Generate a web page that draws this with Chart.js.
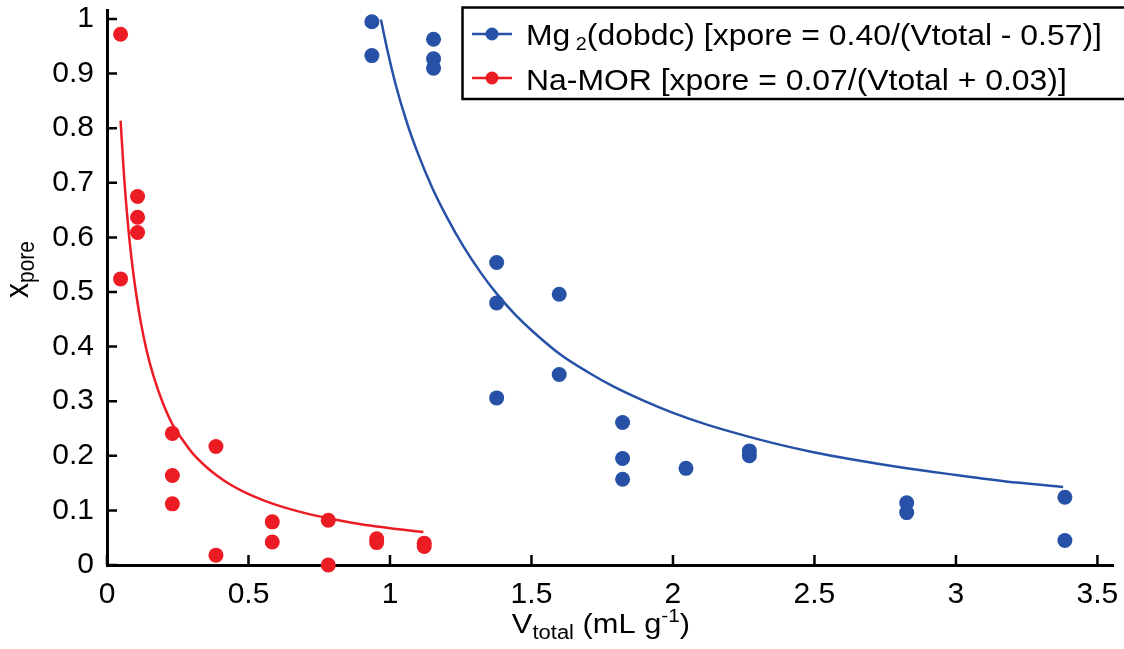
<!DOCTYPE html>
<html>
<head>
<meta charset="utf-8">
<script src="https://cdn.jsdelivr.net/npm/chart.js@4.4.1/dist/chart.umd.min.js"></script>
<style>
  html, body { margin: 0; padding: 0; background: #fff; }
  #wrap { width: 1124px; height: 649px; }
</style>
</head>
<body>
<div id="wrap"><canvas id="c" width="1124" height="649"></canvas></div>
<script>
// Mg2(dobdc) measured points
const mgX = [0.936, 0.936, 1.154, 1.154, 1.154, 1.377, 1.377, 1.377, 1.598, 1.598, 1.822, 1.822, 1.822, 2.046, 2.270, 2.270, 2.826, 2.826, 3.385, 3.385];
const mgY = [0.995, 0.933, 0.963, 0.927, 0.910, 0.554, 0.480, 0.306, 0.496, 0.349, 0.261, 0.195, 0.157, 0.177, 0.209, 0.200, 0.114, 0.096, 0.124, 0.045];
// Na-MOR measured points
const morX = [0.048, 0.048, 0.108, 0.108, 0.108, 0.231, 0.231, 0.231, 0.385, 0.385, 0.584, 0.584, 0.782, 0.782, 0.953, 0.953, 1.121, 1.121];
const morY = [0.972, 0.524, 0.675, 0.637, 0.609, 0.241, 0.164, 0.112, 0.217, 0.018, 0.079, 0.042, 0.082, 0.000, 0.048, 0.041, 0.040, 0.034];
// fit curves
const mgFitX = [0.968, 0.990, 1.020, 1.060, 1.100, 1.150, 1.200, 1.260, 1.320, 1.377, 1.440, 1.500, 1.601, 1.700, 1.789, 1.900, 1.998, 2.120, 2.260, 2.380, 2.484, 2.625, 2.826, 2.999, 3.214, 3.379];
const mgFitY = [0.999, 0.945, 0.880, 0.810, 0.752, 0.690, 0.638, 0.583, 0.536, 0.497, 0.460, 0.430, 0.386, 0.353, 0.327, 0.300, 0.279, 0.257, 0.236, 0.220, 0.208, 0.194, 0.177, 0.165, 0.151, 0.143];
const morFitX = [0.048, 0.060, 0.075, 0.090, 0.105, 0.120, 0.140, 0.165, 0.195, 0.231, 0.270, 0.305, 0.350, 0.388, 0.440, 0.495, 0.560, 0.623, 0.700, 0.782, 0.870, 0.953, 1.040, 1.118];
const morFitY = [0.814, 0.714, 0.619, 0.547, 0.490, 0.443, 0.393, 0.345, 0.300, 0.258, 0.227, 0.203, 0.180, 0.164, 0.146, 0.131, 0.117, 0.106, 0.095, 0.0855, 0.077, 0.0706, 0.065, 0.0605];

const xTicks = [0, 0.5, 1, 1.5, 2, 2.5, 3, 3.5];
const yTicks = [0, 0.1, 0.2, 0.3, 0.4, 0.5, 0.6, 0.7, 0.8, 0.9, 1];

// legend rows: [main, subscript, rest]
const legendRows = [
  ['Mg', ' 2', '(dobdc) [xpore = 0.40/(Vtotal - 0.57)]'],
  ['Na-MOR [xpore = 0.07/(Vtotal + 0.03)]', '', ''],
];

const BLUE = '#2651a6';
const RED = '#ec1c24';
const FAM = '"Liberation Sans", Arial, Helvetica, sans-serif';
const STRETCH = 1.1; // source figure text is a bit wide

const pts = (xs, ys) => xs.map((x, i) => ({ x, y: ys[i] }));

// draw text runs [text, size, dy] left to right from (x, y)
function runs(ctx, parts, x, y) {
  let w = 0;
  for (const [t, size, dy] of parts) {
    if (!t) continue;
    ctx.font = `${size}px ${FAM}`;
    ctx.save();
    ctx.translate(x + w, y + dy);
    ctx.scale(STRETCH, 1);
    ctx.fillText(t, 0, 0);
    ctx.restore();
    w += ctx.measureText(t).width * STRETCH;
  }
  return w;
}
function runsWidth(ctx, parts) {
  let w = 0;
  for (const [t, size] of parts) {
    ctx.font = `${size}px ${FAM}`;
    w += ctx.measureText(t).width * STRETCH;
  }
  return w;
}

const extras = {
  id: 'extras',
  beforeDatasetsDraw(chart) {
    // inward tick marks
    const { ctx, chartArea: a, scales: { x, y } } = chart;
    ctx.save();
    ctx.strokeStyle = '#000';
    ctx.lineWidth = 2.5;
    ctx.beginPath();
    xTicks.forEach((v) => { const px = x.getPixelForValue(v); ctx.moveTo(px, a.bottom); ctx.lineTo(px, a.bottom - 10); });
    yTicks.forEach((v) => { const py = y.getPixelForValue(v); ctx.moveTo(a.left, py); ctx.lineTo(a.left + 10, py); });
    ctx.stroke();
    ctx.restore();
  },
  afterDraw(chart) {
    const { ctx } = chart;
    ctx.save();
    ctx.fillStyle = '#000';
    ctx.textBaseline = 'alphabetic';
    ctx.textAlign = 'left';

    // x axis title
    const xt = [['V', 28, 0], ['total', 20, 6], [' (mL g', 28, 0], ['-1', 19, -11], [')', 28, 0]];
    const xw = runsWidth(ctx, xt);
    runs(ctx, xt, 601 - xw / 2, 633);

    // y axis title (rotated)
    ctx.save();
    ctx.translate(28, 298);
    ctx.scale(STRETCH, 1);
    ctx.rotate(-Math.PI / 2);
    let off = 0;
    [['x', 30, 0], ['pore', 21, 5]].forEach(([t, s, dy]) => {
      ctx.font = `${s}px ${FAM}`;
      ctx.fillText(t, off, dy);
      off += ctx.measureText(t).width;
    });
    ctx.restore();

    // legend box
    ctx.strokeStyle = '#000';
    ctx.lineWidth = 2.5;
    ctx.strokeRect(462.5, 7.5, 700, 91.5);
    const cols = [BLUE, RED];
    const lineY = [34, 78];
    const baseY = [45, 90];
    legendRows.forEach((r, i) => {
      ctx.strokeStyle = cols[i];
      ctx.lineWidth = 2.5;
      ctx.beginPath(); ctx.moveTo(472, lineY[i]); ctx.lineTo(512, lineY[i]); ctx.stroke();
      ctx.fillStyle = cols[i];
      ctx.beginPath(); ctx.arc(492, lineY[i], 6.5, 0, Math.PI * 2); ctx.fill();
      ctx.fillStyle = '#000';
      runs(ctx, [[r[0], 29, 0], [r[1], 18, 5], [r[2], 29, 0]], 526, baseY[i]);
    });
    ctx.restore();
  },
};

const tickFont = { family: FAM, size: 30 };
const noPad = (s) => { s.paddingTop = 0; s.paddingBottom = 0; s.paddingLeft = 0; s.paddingRight = 0; };

new Chart(document.getElementById('c'), {
  type: 'scatter',
  data: {
    datasets: [
      { label: 'Mg2(dobdc)', data: pts(mgX, mgY), backgroundColor: BLUE, borderColor: BLUE, pointRadius: 7.5, pointBorderWidth: 0, showLine: false, clip: false },
      { label: 'Na-MOR', data: pts(morX, morY), backgroundColor: RED, borderColor: RED, pointRadius: 7.5, pointBorderWidth: 0, showLine: false, clip: false },
      { label: 'Mg2 fit', data: pts(mgFitX, mgFitY), showLine: true, borderColor: BLUE, borderWidth: 2.5, pointRadius: 0, cubicInterpolationMode: 'monotone', fill: false, clip: false },
      { label: 'Na-MOR fit', data: pts(morFitX, morFitY), showLine: true, borderColor: RED, borderWidth: 2.5, pointRadius: 0, cubicInterpolationMode: 'monotone', fill: false, clip: false },
    ],
  },
  options: {
    responsive: false,
    animation: false,
    layout: { padding: { top: 10, right: 11, left: 0, bottom: 0 } },
    plugins: { legend: { display: false }, tooltip: { enabled: false } },
    scales: {
      x: {
        type: 'linear', min: 0, max: 3.555,
        afterBuildTicks: (s) => { s.ticks = xTicks.map((v) => ({ value: v })); },
        afterFit: (s) => { s.height = 84; noPad(s); },
        grid: { display: false, drawTicks: false },
        border: { display: true, color: '#000', width: 3 },
        ticks: { color: '#000', font: tickFont, padding: 12, maxRotation: 0, autoSkip: false, callback: (v) => String(v) },
      },
      y: {
        type: 'linear', min: 0, max: 1.0165,
        afterBuildTicks: (s) => { s.ticks = yTicks.map((v) => ({ value: v })); },
        afterFit: (s) => { s.width = 107; noPad(s); },
        grid: { display: false, drawTicks: false },
        border: { display: true, color: '#000', width: 3 },
        ticks: { color: '#000', font: tickFont, padding: 13, autoSkip: false, callback: (v) => String(v) },
      },
    },
  },
  plugins: [extras],
});
</script>
</body>
</html>
